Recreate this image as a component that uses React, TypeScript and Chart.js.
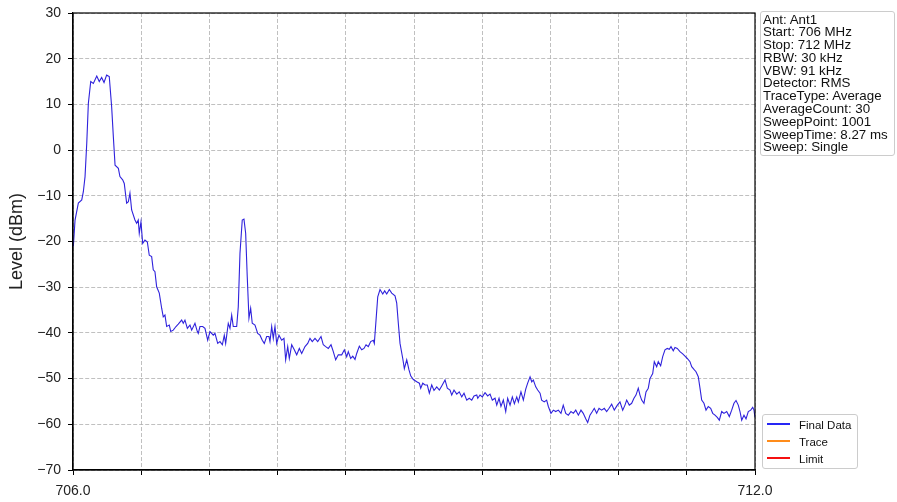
import React, { useEffect, useRef } from 'react';
import { Chart, registerables } from 'chart.js';

Chart.register(...registerables);

const frequencyMHz: number[] = [
  706.003, 706.018, 706.047, 706.077, 706.091, 706.106, 706.121, 706.135, 706.156, 706.179,
  706.209, 706.231, 706.252, 706.273, 706.296, 706.319, 706.340, 706.355, 706.370, 706.399,
  706.413, 706.437, 706.451, 706.472, 706.487, 706.501, 706.516, 706.545, 706.560, 706.574,
  706.583, 706.598, 706.613, 706.633, 706.654, 706.671, 706.692, 706.706, 706.721, 706.736,
  706.759, 706.780, 706.794, 706.809, 706.824, 706.847, 706.860, 706.882, 706.906, 706.926,
  706.956, 706.970, 706.985, 707.006, 707.029, 707.044, 707.073, 707.094, 707.102, 707.117,
  707.141, 707.161, 707.185, 707.205, 707.234, 707.249, 707.273, 707.293, 707.314, 707.331,
  707.343, 707.366, 707.381, 707.396, 707.410, 707.440, 707.454, 707.469, 707.489, 707.504,
  707.519, 707.533, 707.548, 707.563, 707.577, 707.601, 707.625, 707.645, 707.665, 707.683,
  707.704, 707.724, 707.733, 707.748, 707.762, 707.777, 707.792, 707.812, 707.836, 707.856,
  707.871, 707.889, 707.903, 707.924, 707.947, 707.968, 707.991, 708.012, 708.041, 708.065,
  708.085, 708.105, 708.129, 708.153, 708.182, 708.202, 708.223, 708.246, 708.270, 708.290,
  708.311, 708.334, 708.364, 708.387, 708.408, 708.422, 708.443, 708.461, 708.481, 708.496,
  708.519, 708.540, 708.560, 708.578, 708.598, 708.619, 708.642, 708.651, 708.666, 708.681,
  708.701, 708.725, 708.742, 708.760, 708.783, 708.804, 708.833, 708.848, 708.862, 708.877,
  708.901, 708.915, 708.936, 708.956, 708.971, 708.994, 709.024, 709.047, 709.059, 709.077,
  709.097, 709.117, 709.135, 709.156, 709.176, 709.200, 709.223, 709.244, 709.273, 709.293,
  709.317, 709.332, 709.352, 709.376, 709.398, 709.420, 709.440, 709.464, 709.486, 709.508,
  709.528, 709.552, 709.561, 709.581, 709.601, 709.625, 709.648, 709.669, 709.689, 709.713,
  709.728, 709.748, 709.765, 709.786, 709.807, 709.824, 709.845, 709.865, 709.883, 709.904,
  709.918, 709.941, 709.962, 709.983, 710.000, 710.021, 710.036, 710.050, 710.071, 710.088,
  710.109, 710.123, 710.146, 710.167, 710.182, 710.205, 710.226, 710.247, 710.270, 710.293,
  710.313, 710.335, 710.358, 710.381, 710.402, 710.423, 710.446, 710.469, 710.489, 710.511,
  710.528, 710.548, 710.569, 710.586, 710.607, 710.628, 710.651, 710.674, 710.695, 710.716,
  710.739, 710.762, 710.789, 710.812, 710.836, 710.856, 710.871, 710.894, 710.915, 710.935,
  710.953, 710.973, 710.988, 711.003, 711.023, 711.041, 711.061, 711.076, 711.100, 711.114,
  711.135, 711.149, 711.170, 711.188, 711.208, 711.228, 711.246, 711.261, 711.281, 711.296,
  711.316, 711.340, 711.364, 711.384, 711.404, 711.428, 711.443, 711.463, 711.481, 711.501,
  711.516, 711.531, 711.551, 711.569, 711.589, 711.610, 711.628, 711.648, 711.668, 711.686,
  711.707, 711.727, 711.751, 711.774, 711.795, 711.815, 711.833, 711.853, 711.868, 711.883,
  711.903, 711.921, 711.941, 711.962, 711.980, 711.991, 712.000,
];

const levelDbm: number[] = [
  -21.1, -15.3, -11.6, -10.9, -9.1, -5.8, 1.5, 10.2, 15.0, 14.6,
  16.2, 15.0, 15.9, 14.8, 16.4, 16.1, 9.5, 2.9, -3.3, -4.0,
  -5.8, -6.5, -7.3, -11.6, -11.3, -9.4, -13.1, -15.3, -16.0, -15.3,
  -18.2, -15.7, -20.4, -19.7, -20.1, -23.0, -23.3, -26.2, -26.6, -29.9,
  -31.3, -34.6, -36.5, -36.1, -38.6, -38.3, -39.7, -39.4, -38.6, -38.1,
  -37.2, -37.9, -37.2, -39.0, -38.3, -39.4, -37.9, -39.7, -40.1, -38.6,
  -38.6, -39.0, -41.6, -39.7, -40.5, -40.1, -42.3, -41.9, -42.6, -40.5,
  -42.3, -37.9, -39.0, -36.1, -38.6, -38.6, -34.3, -22.6, -15.3, -15.1,
  -18.2, -27.7, -36.8, -34.6, -37.9, -38.3, -40.1, -40.5, -41.6, -42.3,
  -40.8, -40.8, -41.9, -38.6, -41.2, -38.6, -42.3, -40.5, -41.6, -41.2,
  -45.9, -43.0, -45.6, -42.6, -43.7, -44.8, -43.4, -44.5, -43.0, -42.3,
  -41.2, -41.9, -41.2, -41.9, -40.8, -42.6, -43.0, -43.4, -42.6, -44.1,
  -45.9, -44.8, -44.8, -43.7, -45.2, -44.1, -45.6, -45.1, -45.8, -44.5,
  -42.9, -43.7, -43.4, -42.6, -43.0, -41.9, -41.6, -42.3, -37.2, -32.1,
  -30.5, -31.5, -30.8, -31.5, -30.5, -31.3, -31.9, -33.5, -37.9, -42.3,
  -45.6, -47.8, -45.9, -48.1, -49.4, -50.2, -50.7, -51.0, -52.1, -51.0,
  -51.4, -51.4, -53.2, -51.4, -52.6, -51.8, -52.5, -51.6, -50.3, -52.1,
  -52.5, -53.6, -52.5, -53.4, -52.9, -54.0, -53.2, -54.7, -54.3, -54.7,
  -53.8, -53.6, -54.3, -53.6, -54.0, -53.1, -53.8, -53.4, -54.7, -54.3,
  -55.8, -54.3, -56.1, -54.7, -57.2, -54.3, -55.8, -54.0, -55.5, -54.0,
  -55.1, -52.9, -54.7, -52.3, -51.0, -49.6, -50.7, -50.3, -51.8, -52.5,
  -53.2, -54.7, -55.1, -54.7, -56.1, -57.6, -56.9, -57.2, -56.9, -57.6,
  -55.8, -57.6, -58.0, -57.2, -57.6, -56.9, -58.0, -56.9, -57.6, -58.8,
  -59.6, -58.0, -57.2, -56.5, -57.6, -56.5, -56.9, -56.5, -57.2, -56.5,
  -55.6, -56.9, -55.8, -55.1, -56.9, -55.8, -54.7, -55.8, -55.4, -54.3,
  -53.6, -52.1, -53.6, -54.7, -55.4, -52.9, -52.1, -50.0, -48.9, -46.3,
  -47.4, -46.3, -47.2, -45.2, -43.7, -43.4, -43.6, -43.0, -43.9, -43.2,
  -43.4, -44.1, -44.6, -45.1, -45.6, -46.3, -47.4, -48.0, -48.5, -49.6,
  -52.1, -54.7, -55.4, -56.9, -56.1, -56.5, -57.6, -58.0, -58.5, -59.1,
  -57.2, -57.6, -57.2, -58.3, -56.9, -55.4, -54.8, -55.8, -57.2, -59.1,
  -58.0, -58.8, -57.2, -56.9, -56.3, -56.9, -58.5,
];

const yTicks: number[] = [30, 20, 10, 0, -10, -20, -30, -40, -50, -60, -70];
const xTicks: number[] = [706.0, 706.6, 707.2, 707.8, 708.4, 709.0, 709.6, 710.2, 710.8, 711.4, 712.0];
const xTickLabels: string[] = ['706.0', '', '', '', '', '', '', '', '', '', '712.0'];

const infoLines: string[] = [
  'Ant: Ant1',
  'Start: 706 MHz',
  'Stop: 712 MHz',
  'RBW: 30 kHz',
  'VBW: 91 kHz',
  'Detector: RMS',
  'TraceType: Average',
  'AverageCount: 30',
  'SweepPoint: 1001',
  'SweepTime: 8.27 ms',
  'Sweep: Single',
];

const legendLabels: string[] = ['Final Data', 'Trace', 'Limit'];
const legendColors: string[] = ['#2626f5', '#ff8c1a', '#f51010'];

const FONT = '"Liberation Sans", Arial, Helvetica, sans-serif';

const framePlugin = {
  id: 'frame',
  afterDraw(chart: any) {
    const { ctx, chartArea } = chart;
    const { left, top, right, bottom } = chartArea;
    ctx.save();
    ctx.strokeStyle = '#000';
    ctx.lineWidth = 1.2;
    ctx.strokeRect(left, top, right - left, bottom - top);
    ctx.restore();
  },
};

export default function App() {
  const canvasRef = useRef<HTMLCanvasElement | null>(null);

  useEffect(() => {
    if (!canvasRef.current) return;
    Chart.defaults.font.family = FONT;
    const points = frequencyMHz.map((f, i) => ({ x: f, y: levelDbm[i] }));
    const chart = new Chart(canvasRef.current, {
      type: 'line',
      data: {
        datasets: [
          {
            label: legendLabels[0],
            data: points,
            borderColor: '#2f22dc',
            borderWidth: 1.1,
            pointRadius: 0,
            tension: 0,
            fill: false,
          },
        ],
      },
      plugins: [framePlugin],
      options: {
        animation: false,
        responsive: false,
        events: [],
        layout: { padding: { top: 13, right: 142, left: 0, bottom: 0 } },
        plugins: {
          legend: { display: false },
          tooltip: { enabled: false },
        },
        scales: {
          x: {
            type: 'linear',
            min: 706,
            max: 712,
            afterBuildTicks: (s: any) => {
              s.ticks = xTicks.map((v) => ({ value: v }));
            },
            afterFit: (s: any) => {
              s.height = 32;
              s.paddingLeft = 0;
              s.paddingRight = 0;
            },
            ticks: {
              autoSkip: false,
              maxRotation: 0,
              minRotation: 0,
              padding: 8,
              color: '#222',
              font: { size: 14, family: FONT },
              callback: (_v: any, i: number) => xTickLabels[i],
            },
            grid: {
              color: '#b0b0b0',
              lineWidth: 0.8,
              tickLength: 5,
              tickColor: '#000',
              tickWidth: 1,
            },
            border: { display: true, color: '#000', width: 1.2, dash: [4, 2] },
          },
          y: {
            type: 'linear',
            min: -70,
            max: 30,
            afterBuildTicks: (s: any) => {
              s.ticks = yTicks.map((v) => ({ value: v }));
            },
            afterFit: (s: any) => {
              s.width = 73;
              s.paddingTop = 0;
              s.paddingBottom = 0;
            },
            ticks: {
              padding: 7,
              color: '#222',
              font: { size: 14, family: FONT },
              callback: (v: any) => (Number(v) < 0 ? '\u2212' + Math.abs(Number(v)) : String(v)),
            },
            grid: {
              color: '#b0b0b0',
              lineWidth: 0.8,
              tickLength: 5,
              tickColor: '#000',
              tickWidth: 1,
            },
            border: { display: true, color: '#000', width: 1.2, dash: [4, 2] },
            title: {
              display: true,
              text: 'Level (dBm)',
              color: '#222',
              font: { size: 18, family: FONT },
              padding: { top: 6, bottom: 0 },
            },
          },
        },
      },
    } as any);
    return () => chart.destroy();
  }, []);

  return (
    <div style={{ position: 'fixed', left: 0, top: 0, width: 897, height: 502, background: '#fff' }}>
      <canvas ref={canvasRef} width={897} height={502} style={{ width: 897, height: 502, display: 'block' }} />
      <div
        style={{
          position: 'absolute',
          left: 760,
          top: 11,
          width: 135,
          height: 145,
          boxSizing: 'border-box',
          border: '1px solid #cccccc',
          borderRadius: 3,
          background: 'rgba(255,255,255,0.85)',
          padding: '1.5px 0 0 2px',
          fontFamily: FONT,
          fontSize: '13.33px',
          lineHeight: '12.8px',
          color: '#111',
          whiteSpace: 'pre',
        }}
      >
        {infoLines.map((t) => (
          <div key={t}>{t}</div>
        ))}
      </div>
      <div
        style={{
          position: 'absolute',
          left: 762,
          top: 414,
          width: 96,
          height: 55,
          boxSizing: 'border-box',
          border: '1px solid #cccccc',
          borderRadius: 3,
          background: 'rgba(255,255,255,0.85)',
          fontFamily: FONT,
          fontSize: '11.5px',
          color: '#111',
        }}
      >
        {legendLabels.map((label, i) => (
          <React.Fragment key={label}>
            <div
              style={{
                position: 'absolute',
                left: 4,
                top: 8.25 + 17 * i,
                width: 23,
                height: 1.5,
                background: legendColors[i],
              }}
            />
            <div
              style={{
                position: 'absolute',
                left: 36,
                top: 2.6 + 17 * i,
                lineHeight: '14px',
                whiteSpace: 'nowrap',
              }}
            >
              {label}
            </div>
          </React.Fragment>
        ))}
      </div>
    </div>
  );
}
